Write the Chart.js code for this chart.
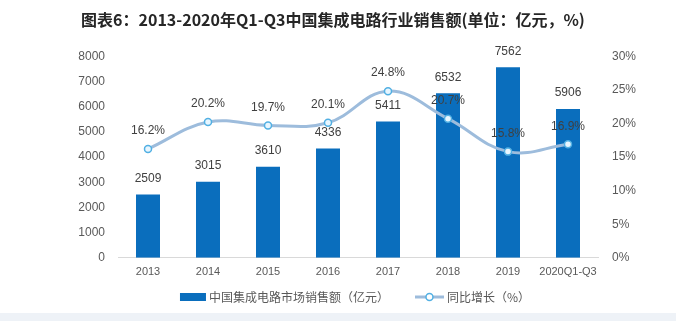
<!DOCTYPE html>
<html>
<head>
<meta charset="utf-8">
<script src="https://cdn.jsdelivr.net/npm/chart.js@4"></script>
<style>
  html, body { margin: 0; padding: 0; background: #fff; }
  #wrap { position: relative; width: 676px; height: 321px; }
  #band { position: absolute; left: 0; top: 313px; width: 676px; height: 8px; background: #eef2f7; }
</style>
</head>
<body>
<div id="wrap">
  <canvas id="chart" width="676" height="321"></canvas>
  <div id="band"></div>
</div>
<script>
const categories = ['2013', '2014', '2015', '2016', '2017', '2018', '2019', '2020Q1-Q3'];
const salesValues = [2509, 3015, 3610, 4336, 5411, 6532, 7562, 5906];
const growthValues = [16.2, 20.2, 19.7, 20.1, 24.8, 20.7, 15.8, 16.9];
const leftTicks = [0, 1000, 2000, 3000, 4000, 5000, 6000, 7000, 8000];
const rightTicks = [0, 5, 10, 15, 20, 25, 30];

const barColor = '#0a6ebd';
const lineColor = '#9dbcdc';
const pointEdge = '#52b0e3';
const textColor = '#404040';
const axisColor = '#595959';
const numFont = '"Liberation Sans", Arial, sans-serif';
const cjkFont = '"Noto Sans CJK SC", sans-serif';

const valueLabels = {
    id: 'valueLabels',
    afterDatasetsDraw(chart) {
        const ctx = chart.ctx;
        ctx.save();
        ctx.font = '12px ' + numFont;
        ctx.fillStyle = textColor;
        ctx.textAlign = 'center';
        ctx.textBaseline = 'middle';
        chart.getDatasetMeta(0).data.forEach((el, i) => {
            ctx.fillText(String(salesValues[i]), el.x, el.y - 16);
        });
        chart.getDatasetMeta(1).data.forEach((el, i) => {
            ctx.fillText(growthValues[i].toFixed(1) + '%', el.x, el.y - 18);
        });
        ctx.restore();
    }
};

// legend drawn by hand so the icons and spacing match the original
const bottomLegend = {
    id: 'bottomLegend',
    afterDraw(chart) {
        const ctx = chart.ctx;
        const names = chart.data.datasets.map(ds => ds.label);
        ctx.save();
        ctx.font = '12px ' + cjkFont;
        const barW = 26, lineW = 29, gapText = 3, gapItem = 26;
        const w0 = ctx.measureText(names[0]).width;
        const w1 = ctx.measureText(names[1]).width;
        const total = barW + gapText + w0 + gapItem + lineW + gapText + w1;
        let x = 355 - total / 2;
        const y = 297;

        ctx.fillStyle = barColor;
        ctx.fillRect(x, y - 4, barW, 8);
        x += barW + gapText;
        ctx.fillStyle = axisColor;
        ctx.textBaseline = 'middle';
        ctx.fillText(names[0], x, y);
        x += w0 + gapItem;

        ctx.strokeStyle = lineColor;
        ctx.lineWidth = 3;
        ctx.beginPath(); ctx.moveTo(x, y); ctx.lineTo(x + lineW, y); ctx.stroke();
        ctx.fillStyle = '#ffffff';
        ctx.strokeStyle = pointEdge;
        ctx.lineWidth = 1.5;
        ctx.beginPath(); ctx.arc(x + lineW / 2, y, 3.5, 0, Math.PI * 2); ctx.fill(); ctx.stroke();
        x += lineW + gapText;
        ctx.fillStyle = axisColor;
        ctx.fillText(names[1], x, y);
        ctx.restore();
    }
};

new Chart(document.getElementById('chart'), {
    data: {
        labels: categories,
        datasets: [{
            type: 'bar',
            label: '中国集成电路市场销售额（亿元）',
            data: salesValues,
            backgroundColor: barColor,
            barPercentage: 0.4,
            categoryPercentage: 1,
            yAxisID: 'y',
            order: 1
        }, {
            type: 'line',
            label: '同比增长（%）',
            data: growthValues,
            borderColor: lineColor,
            borderWidth: 3,
            tension: 0.4,
            pointRadius: 3.5,
            pointBackgroundColor: '#e8f6ff',
            pointBorderColor: pointEdge,
            pointBorderWidth: 1.5,
            yAxisID: 'y1',
            order: 0
        }]
    },
    options: {
        responsive: false,
        animation: false,
        layout: { padding: { left: 10, right: 20, top: 8, bottom: 34 } },
        plugins: {
            title: {
                display: true,
                text: '图表6：2013-2020年Q1-Q3中国集成电路行业销售额(单位：亿元，%)',
                color: '#262626',
                font: { family: cjkFont, size: 16, weight: 'bold' },
                padding: { top: 2, bottom: 27 }
            },
            legend: { display: false },
            tooltip: { enabled: false }
        },
        scales: {
            x: {
                grid: { display: false, drawTicks: false },
                border: { color: '#d9d9d9' },
                ticks: { color: axisColor, font: { family: numFont, size: 11 }, maxRotation: 0, autoSkip: false, padding: 8 }
            },
            y: {
                position: 'left',
                min: 0, max: 8000,
                afterBuildTicks(axis) { axis.ticks = leftTicks.map(v => ({ value: v })); },
                afterFit(axis) { axis.width = 108; },
                grid: { display: false, drawTicks: false },
                border: { display: false },
                ticks: { color: axisColor, font: { family: numFont, size: 12 }, padding: 13, callback: v => String(v) }
            },
            y1: {
                position: 'right',
                min: 0, max: 30,
                afterBuildTicks(axis) { axis.ticks = rightTicks.map(v => ({ value: v })); },
                afterFit(axis) { axis.width = 58; },
                grid: { display: false, drawTicks: false },
                border: { display: false },
                ticks: { color: axisColor, font: { family: numFont, size: 12 }, padding: 14, callback: v => v + '%' }
            }
        }
    },
    plugins: [valueLabels, bottomLegend]
});
</script>
</body>
</html>
